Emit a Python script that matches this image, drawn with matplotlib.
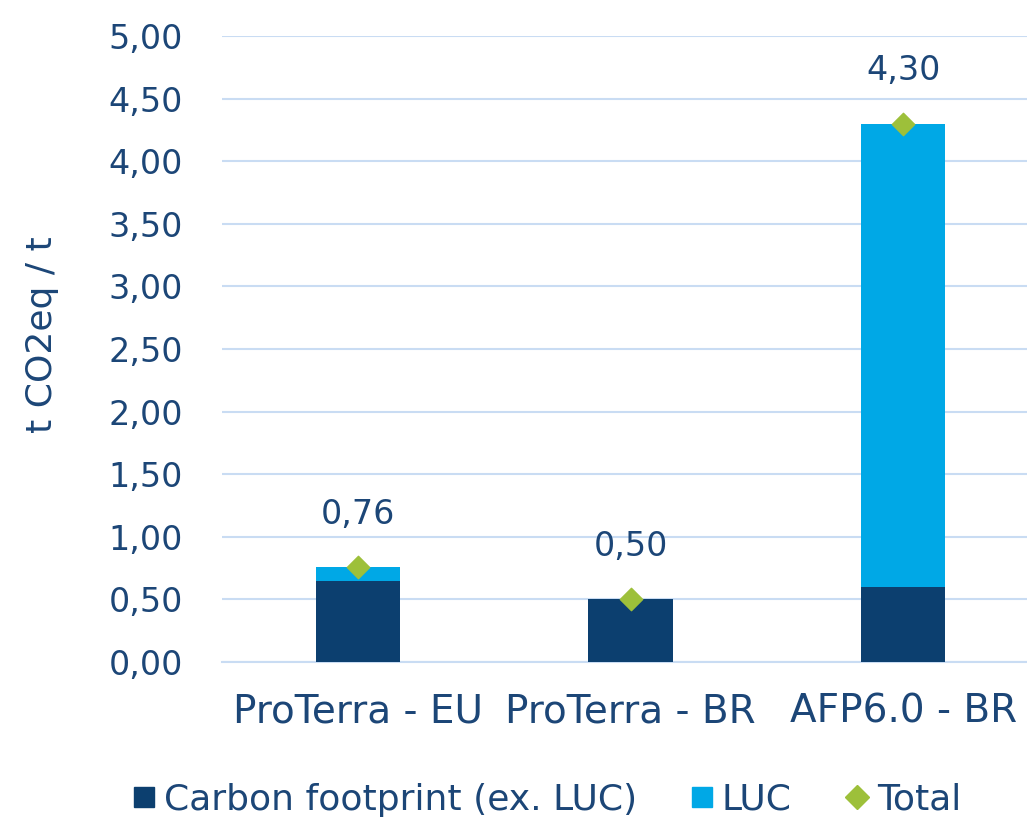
import numpy as np
import matplotlib.pyplot as plt
from matplotlib.ticker import FuncFormatter
from matplotlib.lines import Line2D

categories = ['ProTerra - EU', 'ProTerra - BR', 'AFP6.0 - BR']
carbon = [0.65, 0.50, 0.60]
luc = [0.11, 0.00, 3.70]
total = [0.76, 0.50, 4.30]

navy = '#0C3F6F'
cyan = '#00A8E6'
green = '#9DC03A'
txt = '#1C4677'
grid = '#C9DCF3'

plt.rcParams['font.family'] = ['DejaVu Sans']

fig = plt.figure(figsize=(10.27, 8.23), dpi=100)
ax = fig.add_axes([222 / 1027, 1 - 662 / 823, 1 - 222 / 1027 + 0.012, (662 - 36) / 823])

x = np.arange(len(categories))
w = 0.31
ax.bar(x, carbon, width=w, color=navy, zorder=3)
ax.bar(x, luc, width=w, bottom=carbon, color=cyan, zorder=3)
ax.scatter(x, total, marker='D', s=130, color=green, zorder=4)

for xi, t in zip(x, total):
    ax.annotate(f'{t:.2f}'.replace('.', ','), (xi, t), xytext=(0, 38), textcoords='offset points',
                ha='center', va='center', fontsize=24, color=txt)

ax.set_ylim(0, 5)
ax.set_xlim(-0.5, 2.5)
ax.set_yticks(np.arange(0, 5.01, 0.5))
ax.yaxis.set_major_formatter(FuncFormatter(lambda v, p: f'{v:.2f}'.replace('.', ',')))
ax.grid(axis='y', color=grid, linewidth=1.5, zorder=0)
ax.set_axisbelow(True)
for s in ax.spines.values():
    s.set_visible(False)
ax.spines['bottom'].set_visible(True)
ax.spines['bottom'].set_color(grid)
ax.spines['bottom'].set_linewidth(1.5)
ax.tick_params(axis='y', length=0, pad=28, labelsize=24, labelcolor=txt)
ax.tick_params(axis='x', length=0, pad=22, labelsize=28, labelcolor=txt)
ax.set_xticks(x)
ax.set_xticklabels(categories)
fig.text(42 / 1027, 1 - 335 / 823, 't CO2eq / t', rotation=90, ha='center', va='center',
         fontsize=26, color=txt)

handles = [Line2D([], [], marker='s', linestyle='none', color=navy, markersize=14),
           Line2D([], [], marker='s', linestyle='none', color=cyan, markersize=14),
           Line2D([], [], marker='D', linestyle='none', color=green, markersize=12)]
fig.legend(handles, ['Carbon footprint (ex. LUC)', 'LUC', 'Total'],
           loc='center', bbox_to_anchor=(547 / 1027, 1 - 800 / 823), ncol=3, frameon=False,
           fontsize=26, labelcolor=txt, handlelength=0.6, handletextpad=0.25,
           columnspacing=1.5, borderpad=0)

fig.savefig('out.png', dpi=100)
